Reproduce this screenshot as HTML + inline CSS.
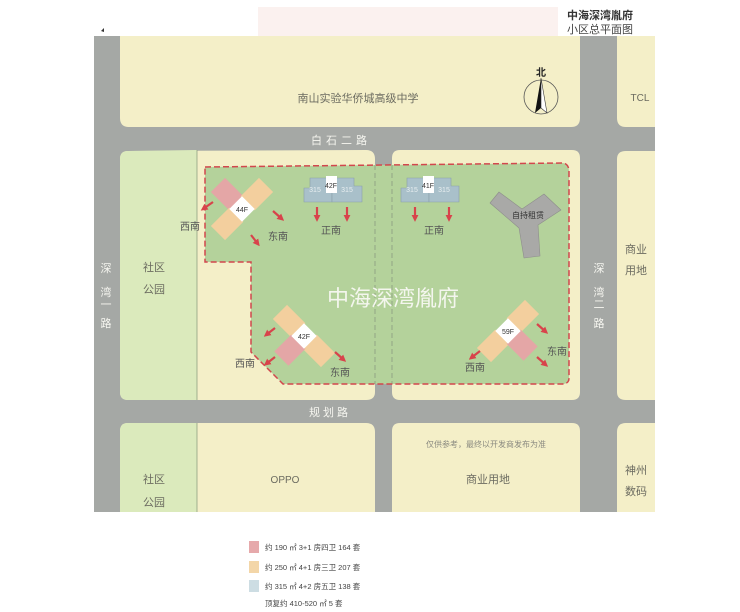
<!DOCTYPE html>
<html><head><meta charset="utf-8"><style>
html,body{margin:0;padding:0;background:#fff;}
svg{display:block;font-family:"Liberation Sans","Noto Sans CJK SC",sans-serif;}
</style></head><body>
<svg width="740" height="612" viewBox="0 0 740 612" xmlns="http://www.w3.org/2000/svg">
<defs>
<marker id="ar" viewBox="0 0 10 10" refX="6" refY="5" markerWidth="3.2" markerHeight="3.2" orient="auto"><path d="M0,0 L10,5 L0,10 z" fill="#d8434b"/></marker>
</defs>
<rect x="258" y="7" width="300" height="29" fill="#fbf1ef"/>
<text x="600" y="19" font-size="11" font-weight="bold" fill="#333" text-anchor="middle">中海深湾胤府</text>
<text x="600" y="33" font-size="11" fill="#444" text-anchor="middle">小区总平面图</text>
<path d="M101,31 l3,-3 l0,4z" fill="#333"/>
<rect x="94" y="36" width="561" height="476" fill="#a5a8a5"/>
<g fill="#f4efc8">
<path d="M120,36 H580 V118 Q580,127 571,127 H129 Q120,127 120,118 Z"/>
<path d="M617,36 H655 V127 H626 Q617,127 617,118 Z"/>
<path d="M120,159 Q120,151 128,151 L366,150 Q375,150 375,159 V392 Q375,400 366,400 H128 Q120,400 120,392 Z"/>
<path d="M392,158 Q392,150 400,150 H572 Q580,150 580,158 V392 Q580,400 572,400 H400 Q392,400 392,392 Z"/>
<path d="M626,151 H655 V400 H626 Q617,400 617,392 V159 Q617,151 626,151Z"/>
<path d="M128,423 H366 Q375,423 375,432 V512 H120 V431 Q120,423 128,423Z"/>
<path d="M400,423 H572 Q580,423 580,431 V512 H392 V431 Q392,423 400,423Z"/>
<path d="M626,423 H655 V512 H617 V432 Q617,423 626,423Z"/>
</g>
<path d="M120,159 Q120,151 128,151 L197,150 V400 H128 Q120,400 120,392 Z" fill="#dbeabc"/>
<path d="M128,423 H197 V512 H120 V431 Q120,423 128,423Z" fill="#dbeabc"/>
<line x1="197" y1="150" x2="197" y2="400" stroke="#8fa080" stroke-width="0.8"/>
<line x1="197" y1="423" x2="197" y2="512" stroke="#8fa080" stroke-width="0.8"/>
<path d="M205,167 L563,163 Q569,164 569,172 V378 Q569,384 562,384 H283 L251,352 V262 H205 Z" fill="#b4d29b"/>
<rect x="375" y="150" width="17" height="10" fill="#a5a8a5"/>
<rect x="375" y="390" width="17" height="10" fill="#a5a8a5"/>
<path d="M375,165 V384 M392,165 V384" stroke="#8a9a80" stroke-width="0.8" stroke-dasharray="5,3" fill="none"/>
<path d="M205,167 L563,163 Q569,164 569,172 V378 Q569,384 562,384 H283 L251,352 V262 H205 Z" fill="none" stroke="#d2474d" stroke-width="1.5" stroke-dasharray="6,3"/>
<text x="393" y="306" font-size="22" fill="#f4f6ee" text-anchor="middle">中海深湾胤府</text>
<g font-size="11" fill="#6b6b60" text-anchor="middle">
<text x="358" y="102">南山实验华侨城高级中学</text>
<text x="640" y="101" font-size="10">TCL</text>
<text x="154" y="271">社区</text><text x="154" y="293">公园</text>
<text x="636" y="253">商业</text><text x="636" y="274">用地</text>
<text x="154" y="483">社区</text><text x="154" y="506">公园</text>
<text x="285" y="483" font-size="10">OPPO</text>
<text x="488" y="483">商业用地</text>
<text x="636" y="474">神州</text><text x="636" y="495">数码</text>
<text x="486" y="447" font-size="8" fill="#8a8a80">仅供参考，最终以开发商发布为准</text>
</g>
<g font-size="11" fill="#f6f6f0" text-anchor="middle">
<text x="341" y="144" letter-spacing="4">白石二路</text>
<text x="330" y="416" letter-spacing="3">规划路</text>
<text x="106" y="272">深</text><text x="106" y="296">湾</text><text x="106" y="308">一</text><text x="106" y="327">路</text>
<text x="599" y="272">深</text><text x="599" y="296">湾</text><text x="599" y="308">二</text><text x="599" y="327">路</text>
</g>
<circle cx="541" cy="97" r="17" fill="none" stroke="#555" stroke-width="0.8"/>
<path d="M541,78 L535,113 L541,108Z" fill="#111"/><path d="M541,78 L547,113 L541,108Z" fill="#fff" stroke="#333" stroke-width="0.6"/>
<text x="541" y="76" font-size="10" font-weight="bold" fill="#222" text-anchor="middle">北</text>
<g fill="#a9c0ca" stroke="#8aa0aa" stroke-width="0.6">
<path d="M304,188 h6 v-10 h22 v24 h-28z"/><path d="M332,178 h22 v8 h8 v16 h-30z"/>
<path d="M401,188 h6 v-10 h22 v24 h-28z"/><path d="M429,178 h22 v8 h8 v16 h-30z"/>
</g>
<rect x="326" y="176" width="11" height="17" fill="#fff"/><rect x="423" y="176" width="11" height="17" fill="#fff"/>
<g font-size="7" text-anchor="middle"><text x="331" y="188" fill="#333">42F</text><text x="428" y="188" fill="#333">41F</text>
<text x="315" y="192" fill="#e8eef0">315</text><text x="347" y="192" fill="#e8eef0">315</text>
<text x="412" y="192" fill="#e8eef0">315</text><text x="444" y="192" fill="#e8eef0">315</text></g>
<path d="M490,203 L499,192 L522,209 L544,194 L561,210 L538,225 L540,256 L524,258 L519,228 Z" fill="#a9a9a7" stroke="#8e8e8c" stroke-width="0.6" stroke-linejoin="round"/>
<text x="528" y="218" font-size="8" fill="#333" text-anchor="middle">自持租赁</text>
<g transform="translate(242,209) rotate(45)">
<rect x="-34" y="-10" width="26" height="20" fill="#e4a6a6"/><rect x="-10" y="-34" width="20" height="26" fill="#f3cf9e"/><rect x="-10" y="8" width="20" height="26" fill="#f3cf9e"/>
<rect x="-9" y="-9" width="18" height="18" fill="#fff"/></g>
<text x="242" y="212" font-size="7" fill="#333" text-anchor="middle">44F</text>
<g transform="translate(304,336) rotate(45)">
<rect x="-34" y="-10" width="26" height="20" fill="#f3cf9e"/><rect x="8" y="-10" width="26" height="20" fill="#f3cf9e"/><rect x="-10" y="8" width="20" height="24" fill="#e4a6a6"/>
<rect x="-9" y="-9" width="18" height="18" fill="#fff"/></g>
<text x="304" y="339" font-size="7" fill="#333" text-anchor="middle">42F</text>
<g transform="translate(508,331) rotate(45)">
<rect x="-10" y="-34" width="20" height="26" fill="#f3cf9e"/><rect x="-10" y="8" width="20" height="26" fill="#f3cf9e"/><rect x="8" y="-10" width="24" height="20" fill="#e4a6a6"/>
<rect x="-9" y="-9" width="18" height="18" fill="#fff"/></g>
<text x="508" y="334" font-size="7" fill="#333" text-anchor="middle">59F</text>
<g stroke="#d8434b" stroke-width="2.2" marker-end="url(#ar)">
<line x1="213" y1="202" x2="203" y2="209"/>
<line x1="273" y1="211" x2="282" y2="219"/>
<line x1="251" y1="235" x2="258" y2="244"/>
<line x1="317" y1="207" x2="317" y2="219"/>
<line x1="347" y1="207" x2="347" y2="219"/>
<line x1="415" y1="207" x2="415" y2="219"/>
<line x1="449" y1="207" x2="449" y2="219"/>
<line x1="275" y1="328" x2="266" y2="335"/>
<line x1="275" y1="357" x2="266" y2="364"/>
<line x1="335" y1="352" x2="344" y2="360"/>
<line x1="480" y1="351" x2="471" y2="358"/>
<line x1="537" y1="324" x2="546" y2="332"/>
<line x1="537" y1="357" x2="546" y2="365"/>
</g>
<g font-size="10" fill="#555" text-anchor="middle">
<text x="190" y="230">西南</text><text x="278" y="240">东南</text>
<text x="331" y="234">正南</text><text x="434" y="234">正南</text>
<text x="245" y="367">西南</text><text x="340" y="376">东南</text>
<text x="475" y="371">西南</text><text x="557" y="355">东南</text>
</g>
<g font-size="7.5" fill="#444">
<rect x="249" y="541" width="10" height="12" fill="#e6a9ab"/><text x="265" y="550">约 190 ㎡ 3+1 房四卫 164 套</text>
<rect x="249" y="561" width="10" height="12" fill="#f3d6a8"/><text x="265" y="570">约 250 ㎡ 4+1 房三卫 207 套</text>
<rect x="249" y="580" width="10" height="12" fill="#cddde3"/><text x="265" y="589">约 315 ㎡ 4+2 房五卫 138 套</text>
<text x="265" y="606">顶复约 410-520 ㎡ 5 套</text>
</g>
</svg>
</body></html>
